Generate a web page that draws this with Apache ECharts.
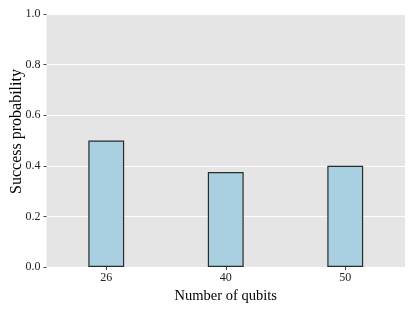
<!DOCTYPE html>
<html><head><meta charset="utf-8">
<script src="https://cdn.jsdelivr.net/npm/echarts@6/dist/echarts.min.js"></script>
<style>html,body{margin:0;padding:0;background:#fff}#c{width:415px;height:311px}</style>
</head><body><div id="c"></div>
<script>
const categories = ['26', '40', '50'];
const successProbability = [0.5, 0.375, 0.4];
const yTicks = [0, 0.2, 0.4, 0.6, 0.8, 1.0];

const chart = echarts.init(document.getElementById('c'), null, {renderer: 'canvas'});
const font = '"Liberation Serif", "Times New Roman", serif';
chart.setOption({
  animation: false,
  backgroundColor: '#ffffff',
  grid: {left: 46.5, right: 10, top: 14, bottom: 44, containLabel: false, outerBoundsMode: 'none',
         show: true, backgroundColor: '#E5E5E5', borderWidth: 0},
  xAxis: {
    type: 'category', data: categories,
    name: 'Number of qubits', nameLocation: 'middle', nameGap: 22, nameMoveOverlap: false,
    nameTextStyle: {fontFamily: font, fontSize: 14.5, color: '#000'},
    axisLine: {show: false},
    axisTick: {show: true, alignWithLabel: true, length: 3, lineStyle: {color: '#444'}},
    axisLabel: {fontFamily: font, fontSize: 12, color: '#222', margin: 5},
    splitLine: {show: false}
  },
  yAxis: {
    type: 'value', min: 0, max: 1, interval: 0.2,
    name: 'Success probability', nameLocation: 'middle', nameGap: 22, nameMoveOverlap: false,
    nameTextStyle: {fontFamily: font, fontSize: 16, color: '#000', padding: [0, 0, 0, 18]},
    axisLine: {show: false},
    axisTick: {show: true, length: 3, lineStyle: {color: '#444'}},
    axisLabel: {fontFamily: font, fontSize: 12, color: '#222', margin: 6,
      formatter: v => yTicks.includes(+v.toFixed(1)) ? v.toFixed(1) : ''},
    splitLine: {show: true, lineStyle: {color: '#ffffff', width: 1}}
  },
  series: [{
    type: 'bar', data: successProbability, barWidth: '30%',
    itemStyle: {color: 'rgba(168,208,224,1)', borderColor: '#2b2b2b', borderWidth: 1.2}
  }]
});
</script></body></html>
